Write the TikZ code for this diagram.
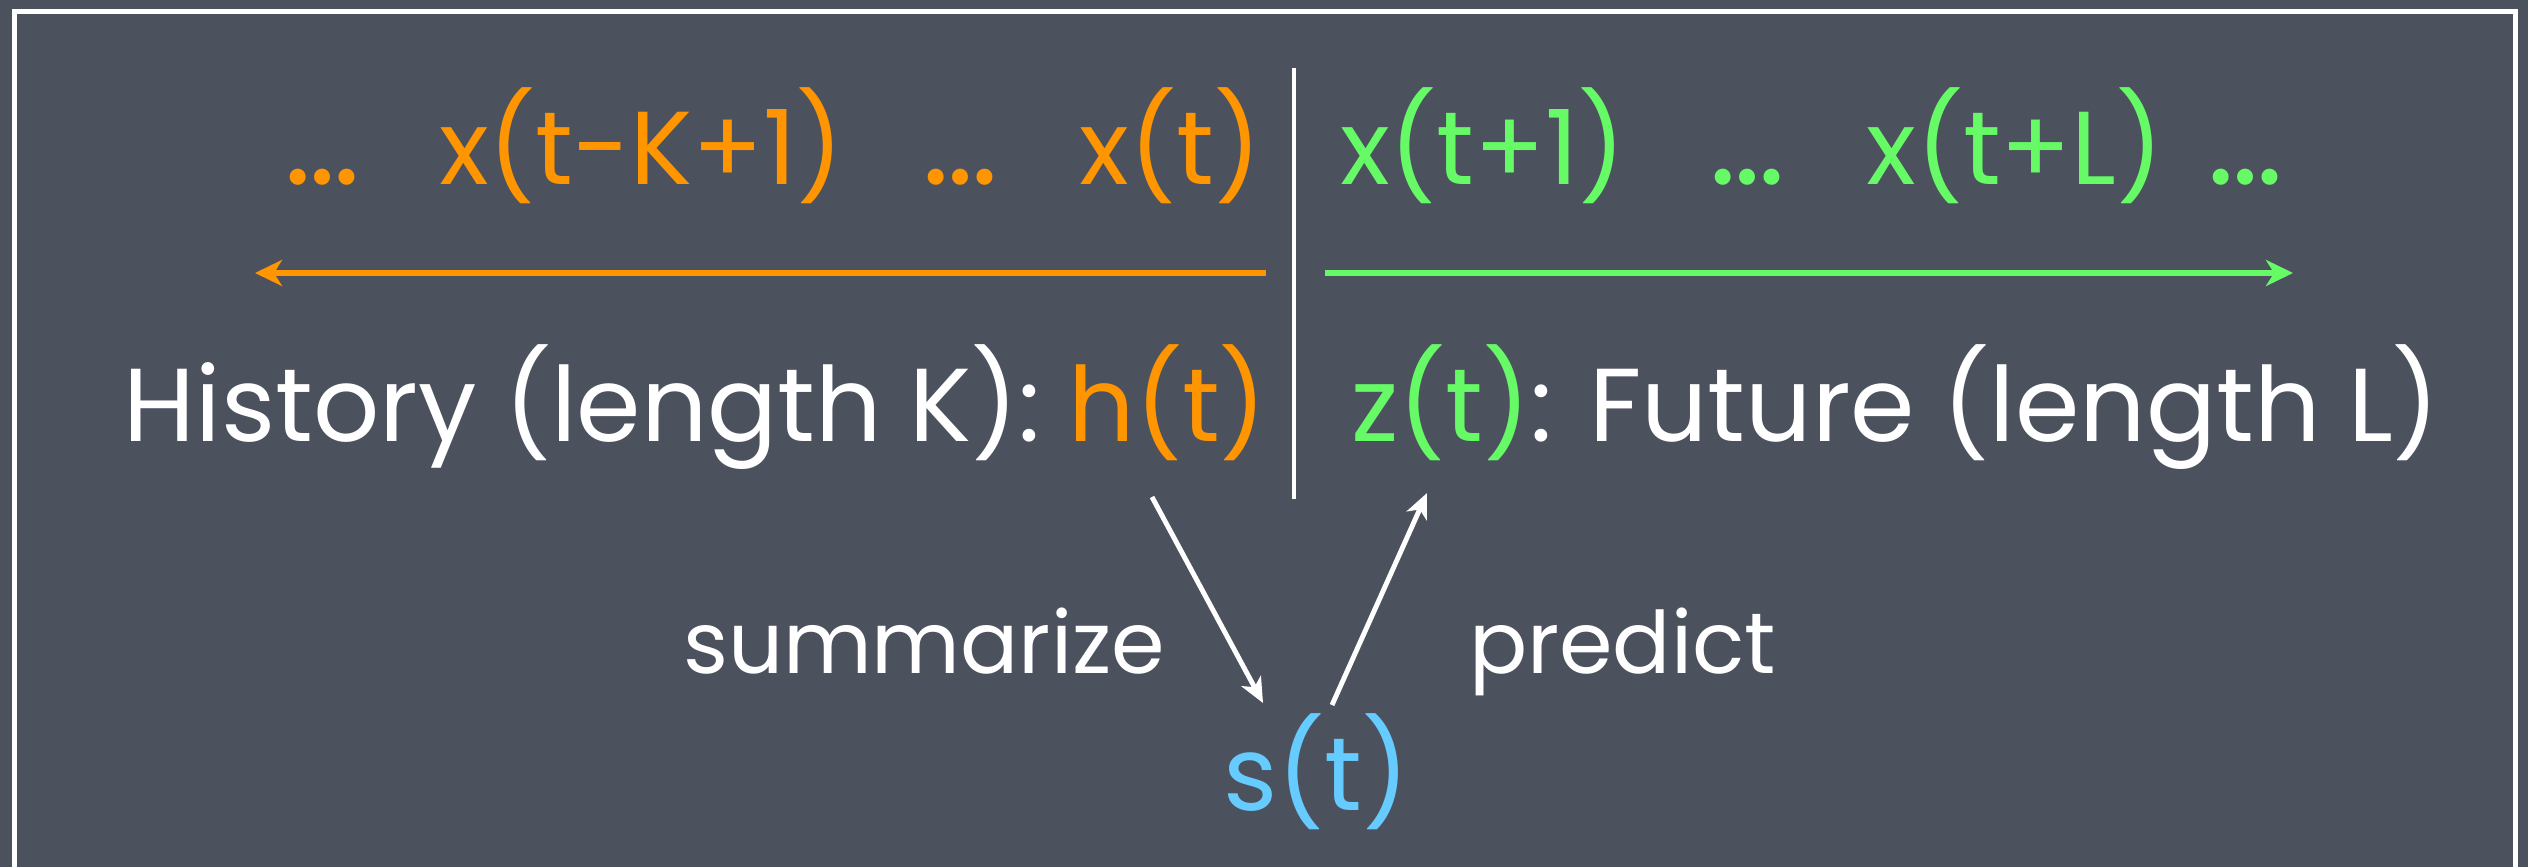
\documentclass[tikz,border=0pt]{standalone}
\usepackage{fontspec}
\setmainfont{Poppins}
\usetikzlibrary{arrows.meta}
\definecolor{board}{RGB}{76,81,94}
\definecolor{chalkorange}{RGB}{255,149,0}
\definecolor{chalkgreen}{RGB}{102,250,102}
\definecolor{chalkblue}{RGB}{102,204,255}
\tikzset{
  txt/.style={inner sep=0pt, anchor=base, font=\fontsize{29.5pt}{35pt}\selectfont},
  dotstxt/.style={inner sep=0pt, anchor=base, font=\fontsize{37pt}{40pt}\selectfont},
  smalltxt/.style={inner sep=0pt, anchor=base, text=white, font=\fontsize{24.5pt}{30pt}\selectfont},
  histtxt/.style={txt, text=chalkorange},
  futtxt/.style={txt, text=chalkgreen},
  histdots/.style={dotstxt, text=chalkorange},
  futdots/.style={dotstxt, text=chalkgreen},
  whitetxt/.style={txt, text=white},
  statetxt/.style={txt, text=chalkblue},
  timeline/.style={line width=1.7pt, -{Stealth[length=0.27cm, width=0.26cm, inset=0.08cm]}},
  flow/.style={white, line width=1.4pt, -{Stealth[length=0.25cm, width=0.22cm, inset=0.07cm]}},
  divider/.style={white, line width=1.4pt},
  frame/.style={white, line width=1.4pt}
}
\begin{document}
\begin{tikzpicture}[x=0.01cm, y=-0.01cm]
\useasboundingbox (0,0) rectangle (2528,867);
\fill[board] (0,0) rectangle (2528,867);
\draw[frame] (14.5,880) -- (14.5,11.5) -- (2515,11.5) -- (2515,880);

% top row
\node[histdots] (d1) at (322.5,185) {…};
\node[histtxt] (xk) at (641.5,185) {x(t-K+1)};
\node[histdots] (d2) at (960.5,185) {…};
\node[histtxt] (xt) at (1170.5,185) {x(t)};
\node[futtxt] (x1) at (1483,185) {x(t+1)};
\node[futdots] (d3) at (1747,185) {…};
\node[futtxt] (xl) at (2015,185) {x(t+L)};
\node[futdots] (d4) at (2245,185) {…};

% divider
\coordinate (vtop) at (1294,68);
\coordinate (vbot) at (1294,499);
\draw[divider] (vtop) -- (vbot);

% time arrows
\coordinate (ostart) at (1266,273);
\coordinate (oend) at (255,273);
\coordinate (gstart) at (1325,273);
\coordinate (gend) at (2293,273);
\draw[timeline, chalkorange] (ostart) -- (oend);
\draw[timeline, chalkgreen] (gstart) -- (gend);

% second row
\node[whitetxt] (hist) at (695.5,441) {History (length K): \textcolor{chalkorange}{h(t)}};
\node[whitetxt] (fut) at (1895.5,441) {\textcolor{chalkgreen}{z(t)}: Future (length L)};

% bottom
\node[smalltxt] (sum) at (924,673) {summarize};
\node[smalltxt] (pred) at (1622.5,673) {predict};
\node[statetxt] (st) at (1316.5,810) {s(t)};

\coordinate (sumstart) at (1152,497);
\coordinate (sumend) at (1263,703);
\coordinate (predstart) at (1332,705);
\coordinate (predend) at (1427,493);
\draw[flow] (sumstart) -- (sumend);
\draw[flow] (predstart) -- (predend);
\end{tikzpicture}
\end{document}
